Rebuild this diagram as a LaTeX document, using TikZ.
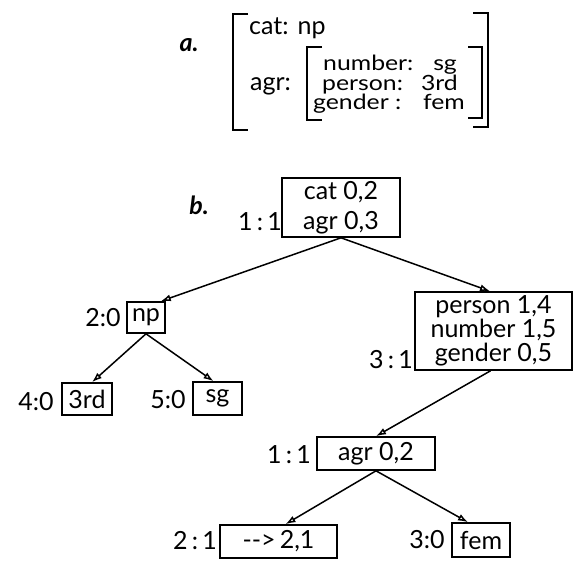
\documentclass[tikz,border=0pt]{standalone}
\usepackage{fontspec}
\setmainfont{Lato}
\usetikzlibrary{arrows.meta}
\newcommand{\wide}[1]{\scalebox{1.18}[1]{#1}}
\begin{document}
\begin{tikzpicture}[x=1pt,y=-1pt,
  every node/.style={font=\fontsize{25}{30}\selectfont, inner sep=0pt},
  box/.style={draw, line width=1.6pt, align=center},
  conn/.style={line width=1.5pt, -{Latex[open,length=10pt,width=7pt]}},
  brk/.style={line width=2pt},
  avm/.style={anchor=base west, font=\fontsize{21}{24}\selectfont},
  avmv/.style={anchor=base east, font=\fontsize{21}{24}\selectfont},
  itl/.style={font=\fontsize{25}{30}\selectfont\bfseries\itshape}]
\useasboundingbox (0,0) rectangle (573,563);
% ---------- part a ----------
\node[itl] (a) at (189,45) {a.};
\draw[brk] (248,14) -- (233,14) -- (233,130) -- (248,130);
\draw[brk] (473,13) -- (488,13) -- (488,127) -- (473,127);
\draw[brk] (322,47) -- (307,47) -- (307,120) -- (322,120);
\draw[brk] (468,47) -- (482,47) -- (482,118) -- (468,118);
\node[anchor=base west] (cat) at (249,34) {cat:\hspace{9pt}np};
\node[anchor=base west] (agr) at (250,90) {agr:};
\node[avm] (num) at (323,70.5) {\wide{number:}};
\node[avmv] (numv) at (457,70.5) {\wide{sg}};
\node[avm] (per) at (322,90) {\wide{person:}};
\node[avmv] (perv) at (458,90) {\wide{3rd}};
\node[avm] (gen) at (313,109.5) {\wide{gender :}};
\node[avmv] (genv) at (465,109.5) {\wide{fem}};
% ---------- part b ----------
\node[itl] (b) at (199,205) {b.};
\node[box, minimum width=118pt, minimum height=59pt] (root) at (341,207.5) {cat 0,2\\agr 0,3};
\node (l11) at (260,222) {1\,:\,1};
\node[box, minimum width=38pt, minimum height=31pt] (np) at (146,317.5) {np};
\node (l20) at (103,318) {2:0};
\node[box, minimum width=50pt, minimum height=32pt] (rd) at (87,399) {3rd};
\node (l40) at (36,402) {4:0};
\node[box, minimum width=49pt, minimum height=33pt] (sg) at (217.5,398.5) {sg};
\node (l50) at (168,400) {5:0};
\node[box, minimum width=157pt, minimum height=78pt, font=\fontsize{25}{24}\selectfont] (per2) at (493.5,331) {person 1,4\\number 1,5\\gender 0,5};
\node (l31) at (391,360) {3\,:\,1};
\node[box, minimum width=118pt, minimum height=33pt] (agr2) at (376,453.5) {agr 0,2};
\node (l11b) at (289,455) {1\,:\,1};
\node[box, minimum width=117pt, minimum height=33pt] (ptr) at (278.5,541.5) {-{}->\,2,1};
\node (l21) at (195,541) {2\,:\,1};
\node[box, minimum width=58pt, minimum height=34pt] (fem) at (481,540) {fem};
\node (l30) at (427,540) {3:0};
% connectors
\draw[conn] (root.south) -- ([xshift=-5pt]np.north east);
\draw[conn] (root.south) -- ([xshift=-3.5pt]per2.north);
\draw[conn] (np.south) -- ([xshift=5pt]rd.north);
\draw[conn] (np.south) -- ([xshift=-4pt]sg.north);
\draw[conn] ([xshift=-3pt]per2.south) -- (agr2.north);
\draw[conn] (agr2.south) -- ([xshift=7pt]ptr.north);
\draw[conn] (agr2.south) -- ([xshift=-13pt]fem.north);
\end{tikzpicture}
\end{document}
